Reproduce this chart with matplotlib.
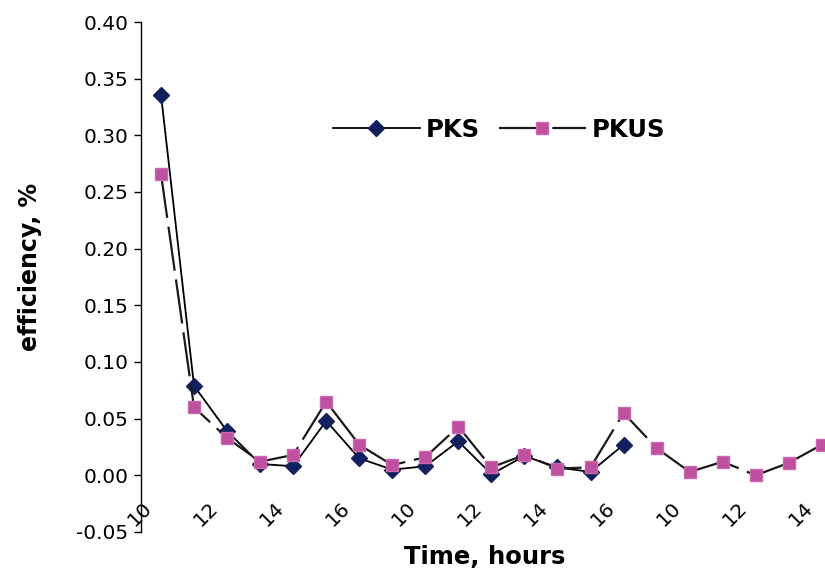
import matplotlib
matplotlib.use("Agg")
import matplotlib.pyplot as plt
from matplotlib.transforms import ScaledTranslation

# Hourly readings over three working days (10:00-17:00, 10:00-17:00, 10:00-14:00)
hours = [10, 11, 12, 13, 14, 15, 16, 17,
         10, 11, 12, 13, 14, 15, 16, 17,
         10, 11, 12, 13, 14]
pks = [0.336, 0.079, 0.039, 0.010, 0.008, 0.048, 0.015, 0.005,
       0.008, 0.030, 0.001, 0.017, 0.007, 0.003, 0.027]
pkus = [0.266, 0.060, 0.033, 0.012, 0.018, 0.065, 0.027, 0.009,
        0.016, 0.043, 0.007, 0.018, 0.006, 0.007, 0.055, 0.024,
        0.003, 0.012, 0.000, 0.011, 0.027]
tick_idx = list(range(0, len(hours), 2))
tick_labels = [str(hours[i]) for i in tick_idx]

plt.rcParams["font.family"] = ["DejaVu Sans"]

fig = plt.figure(figsize=(8.25, 5.70), dpi=100)
ax = fig.add_axes([0.1709, 0.0667, 0.8493, 0.8947])

x_pks = list(range(len(pks)))
x_pkus = list(range(len(pkus)))

ax.plot(x_pks, pks, color="black", lw=1.3, marker="D", ms=8.5,
        mfc="#12205E", mec="#12205E", label="PKS", zorder=3)
line_pkus, = ax.plot(x_pkus, pkus, color="#1a1a1a", lw=1.6, marker="s", ms=8,
                     mfc="#BF50A0", mec="#C868AE", label="PKUS", zorder=4)
line_pkus.set_dashes([20, 4])

ax.set_xlim(-0.605, 20.6)
ax.set_ylim(-0.05, 0.40)
ax.set_yticks([-0.05, 0.0, 0.05, 0.10, 0.15, 0.20, 0.25, 0.30, 0.35, 0.40])
ax.set_yticklabels([f"{v:.2f}" for v in ax.get_yticks()])

for s in ("top", "right"):
    ax.spines[s].set_visible(False)
ax.spines["bottom"].set_position(("data", 0))
ax.spines["bottom"].set_color("none")
ax.spines["left"].set_linewidth(1.0)

ax.tick_params(axis="y", direction="out", length=5, width=1.0, pad=4,
               labelsize=14.5)
ax.tick_params(axis="x", length=0, labelsize=14.5, pad=0)
ax.set_xticks(tick_idx)
ax.set_xticklabels(tick_labels, rotation=45, ha="right", va="center",
                   rotation_mode="anchor")
offset = ScaledTranslation(-12 / 100, -30 / 100, fig.dpi_scale_trans)
for lbl in ax.get_xticklabels():
    lbl.set_transform(lbl.get_transform() + offset)

ax.set_xlabel("Time, hours", fontsize=17.5, fontweight="bold")
ax.xaxis.set_label_coords(0.491, -0.025)
ax.set_ylabel("efficiency, %", fontsize=17, fontweight="bold")
ax.yaxis.set_label_coords(-0.158, 0.52)
ax.yaxis.label.set_va("center")

ax.legend(loc="center", bbox_to_anchor=(0.605, 0.772),
          bbox_transform=fig.transFigure, ncol=2, frameon=False,
          prop={"weight": "bold", "size": 17.5}, handlelength=3.6,
          handletextpad=0.25, columnspacing=0.75)

fig.savefig("out.png", dpi=100)
